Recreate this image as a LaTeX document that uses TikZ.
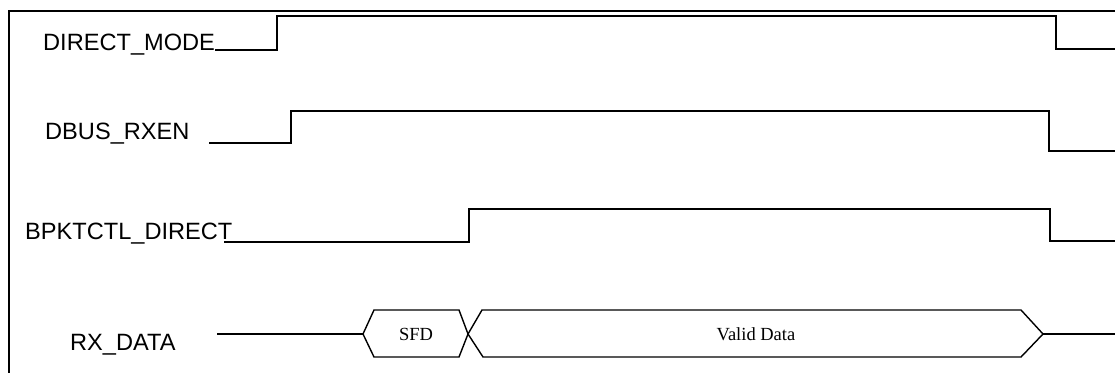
\documentclass[tikz,border=0pt]{standalone}
\usepackage{fontspec}
\setmainfont{Liberation Serif}
\setsansfont{Liberation Sans}
\tikzset{
  sig/.style={line width=1.4pt, line join=miter},
  lbl/.style={anchor=base west, inner sep=0pt, font=\sffamily\fontsize{23.6}{23.6}\selectfont},
  dlbl/.style={anchor=base, inner sep=0pt, font=\rmfamily\fontsize{18.5}{18.5}\selectfont}
}
\begin{document}
\begin{tikzpicture}[x=1pt,y=-1pt]
		\useasboundingbox (0,0) rectangle (1115,372);
		\clip (0,0) rectangle (1115,372);
		\draw[line width=2.5pt] (9,400) -- (9,11) -- (1130,11);% frame
		
		% DIRECT_MODE
		\node[lbl] (dm) at (43,50) {DIRECT\_MODE};
		\coordinate (dmA) at (277,50);%rise
		\coordinate (dmB) at (1056,16);%fall
		\coordinate (dmE) at (1115,49);
		\draw[sig] (dm.base east) -- (dmA) |- (dmB) |- (dmE);
		
		% DBUS_RXEN
		\node[lbl] (rx) at (45,139) {DBUS\_RXEN};
		\coordinate (rxS) at (209,143);
		\coordinate (rxA) at (291,143);%rise
		\coordinate (rxB) at (1049,111);%fall
		\coordinate (rxE) at (1115,151);
		\draw[sig] (rxS) -- (rxA) |- (rxB) |- (rxE);
		
		% BPKTCTL_DIRECT
		\node[lbl] (bp) at (25,239) {BPKTCTL\_DIRECT};
		\coordinate (bpS) at (224,242);
		\coordinate (bpA) at (469,242);%rise
		\coordinate (bpB) at (1050,209);%fall
		\coordinate (bpE) at (1115,241);
		\draw[sig] (bpS) -- (bpA) |- (bpB) |- (bpE);
		
		% RX_DATA
		\node[lbl] (rd) at (70,350) {RX\_DATA};
		\coordinate (rdS) at (217,334);
		\coordinate (sfdL) at (363,334);
		\coordinate (cross) at (468,334);
		\coordinate (valR) at (1043,334);
		\coordinate (rdE) at (1115,334);
		\draw[sig] (rdS) -- (sfdL);
		\draw[sig] (sfdL) -- (374,310) -- (459,310) -- (cross) -- (459,357) -- (374,357) -- cycle;
		\draw[sig] (cross) -- (482,310) -- (1021,310) -- (valR) -- (1021,357) -- (483,357) -- cycle;
		\draw[sig] (valR) -- (rdE);
		\node[dlbl] (sfd) at (416,340) {SFD};
		\node[dlbl] (val) at (756,340) {Valid Data};
\end{tikzpicture}
\end{document}
